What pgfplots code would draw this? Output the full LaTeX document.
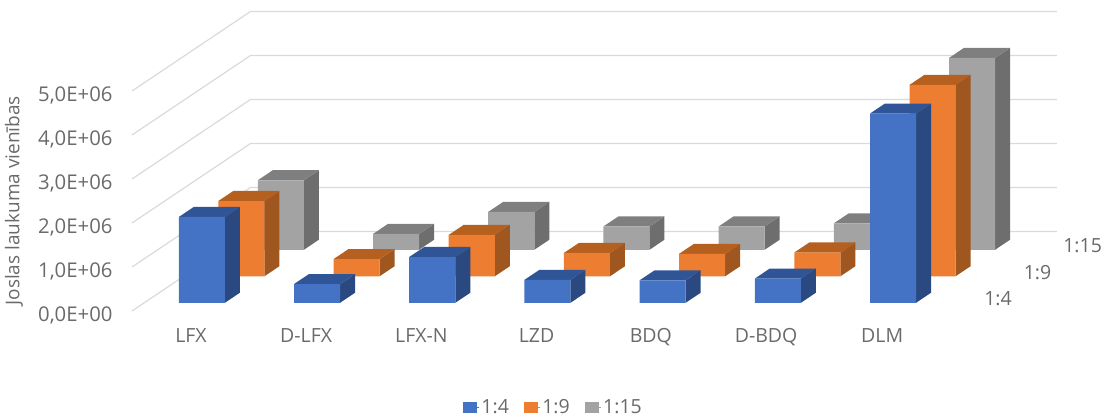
\documentclass[border=0pt]{standalone}
\usepackage{pgfplots}
\pgfplotsset{compat=1.18}
\usepackage{fontspec}
\setmainfont{Open Sans}
\usetikzlibrary{calc}

\definecolor{txt}{HTML}{6A6A6A}
\definecolor{gridc}{HTML}{DADADA}
\definecolor{blueF}{HTML}{4472C4}\definecolor{blueS}{HTML}{2A4980}\definecolor{blueT}{HTML}{2F5597}
\definecolor{orngF}{HTML}{ED7D31}\definecolor{orngS}{HTML}{A0561F}\definecolor{orngT}{HTML}{B6601F}
\definecolor{grayF}{HTML}{A3A3A3}\definecolor{grayS}{HTML}{6E6E6E}\definecolor{grayT}{HTML}{7F7F7F}

% One 3-D column: category index, series depth, height (millions), colour stem
\newcommand{\drawbar}[4]{%
  \pgfmathsetmacro\xa{#1+0.30}\pgfmathsetmacro\xb{#1+0.70}%
  \pgfmathsetmacro\ya{#2+0.31}\pgfmathsetmacro\yb{#2+0.69}%
  \edef\temp{%
    \noexpand\addplot3[fill=#4S,draw=none,forget plot] coordinates
      {(\xb,\ya,0) (\xb,\yb,0) (\xb,\yb,#3) (\xb,\ya,#3) (\xb,\ya,0)};
    \noexpand\addplot3[fill=#4T,draw=none,forget plot] coordinates
      {(\xa,\ya,#3) (\xb,\ya,#3) (\xb,\yb,#3) (\xa,\yb,#3) (\xa,\ya,#3)};
    \noexpand\addplot3[fill=#4F,draw=none,forget plot] coordinates
      {(\xa,\ya,0) (\xb,\ya,0) (\xb,\ya,#3) (\xa,\ya,#3) (\xa,\ya,0)};
  }\temp}
% One gridline along the side wall and the back wall
\newcommand{\gridat}[1]{%
  \addplot3[gridc,line width=1.2pt,forget plot] coordinates {(0,0,#1) (0,3,#1) (7,3,#1)};}

\begin{document}
\begin{tikzpicture}
\begin{axis}[
  x={(115.2pt,0pt)}, y={(39.5pt,26.5pt)}, z={(0pt,44pt)},
  xmin=0, xmax=7, ymin=0, ymax=3, zmin=0, zmax=5,
  clip=false,
  axis x line*=bottom, axis y line*=right, axis z line*=left,
  axis line style={draw=none},
  major tick length=0pt,
  tick style={draw=none},
  yticklabel pos=upper,
  xtick={0.5,1.5,2.5,3.5,4.5,5.5,6.5},
  xticklabels={LFX,D-LFX,LFX-N,LZD,BDQ,D-BDQ,DLM},
  ytick={0.5,1.5,2.5},
  yticklabels={1:4,1:9,1:15},
  ztick={0,1,2,3,4,5},
  zticklabels={{0,0E+00},{1,0E+06},{2,0E+06},{3,0E+06},{4,0E+06},{5,0E+06}},
  ticklabel style={font=\fontsize{19.5}{20}\selectfont,text=txt},
  xticklabel style={yshift=-14pt,xshift=7pt},
  yticklabel style={anchor=west,xshift=829pt,yshift=-221pt},
  zticklabel style={font=\fontsize{20.3}{21}\selectfont,xshift=-16pt,yshift=8pt},
  zlabel={Joslas laukuma vienības},
  zlabel style={font=\fontsize{19}{20}\selectfont,text=txt,xshift=32.5pt,yshift=12pt},
  legend columns=3,
  legend image code/.code={\fill[#1] (0pt,-5pt) rectangle (13pt,5pt);\path (0pt,0pt) -- (16pt,0pt);},
  legend style={draw=none,fill=none,font=\fontsize{19.5}{20}\selectfont,text=txt,
    at={(axis description cs:0.5,-0.36)},anchor=center,xshift=-41pt,yshift=12pt,
    /tikz/every even column/.append style={column sep=13pt}},
]
\gridat{0}\gridat{1}\gridat{2}\gridat{3}\gridat{4}\gridat{5}

% 1:15, rearmost row
\drawbar{0}{2}{1.58}{gray}
\drawbar{1}{2}{0.36}{gray}
\drawbar{2}{2}{0.86}{gray}
\drawbar{3}{2}{0.53}{gray}
\drawbar{4}{2}{0.53}{gray}
\drawbar{5}{2}{0.60}{gray}
\drawbar{6}{2}{4.36}{gray}
% 1:9, middle row
\drawbar{0}{1}{1.71}{orng}
\drawbar{1}{1}{0.39}{orng}
\drawbar{2}{1}{0.94}{orng}
\drawbar{3}{1}{0.53}{orng}
\drawbar{4}{1}{0.51}{orng}
\drawbar{5}{1}{0.54}{orng}
\drawbar{6}{1}{4.35}{orng}
% 1:4, front row
\drawbar{0}{0}{1.95}{blue}
\drawbar{1}{0}{0.425}{blue}
\drawbar{2}{0}{1.04}{blue}
\drawbar{3}{0}{0.52}{blue}
\drawbar{4}{0}{0.51}{blue}
\drawbar{5}{0}{0.55}{blue}
\drawbar{6}{0}{4.30}{blue}

\addlegendimage{blueF}\addlegendentry{1:4}
\addlegendimage{orngF}\addlegendentry{1:9}
\addlegendimage{grayF}\addlegendentry{1:15}
\coordinate (o) at (axis cs:0,0,0);
\end{axis}
\pgfresetboundingbox
\path[use as bounding box] ($(o)+(-132pt,-106pt)$) rectangle ++(1106pt,417pt);
\end{tikzpicture}
\end{document}
